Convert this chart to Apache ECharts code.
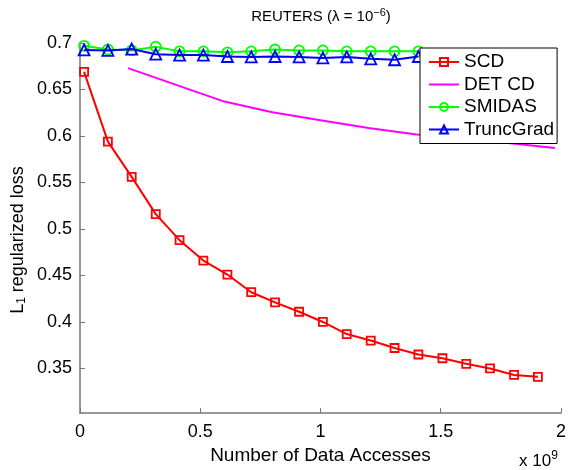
<!DOCTYPE html>
<html><head><meta charset="utf-8">
<script src="https://cdn.jsdelivr.net/npm/echarts@6/dist/echarts.min.js"></script>
<style>html,body{margin:0;padding:0;background:#fff}#c{width:569px;height:470px}</style>
</head><body><div id="c"></div>
<script>
// x in units of 1e9 data accesses
const xStoch = [0.017,0.116,0.215,0.315,0.414,0.513,0.613,0.712,0.811,0.911,1.010,1.109,1.209,1.308,1.407,1.507,1.606,1.705,1.805,1.904];
const ySCD = [0.669,0.594,0.556,0.516,0.488,0.466,0.451,0.432,0.421,0.411,0.400,0.387,0.380,0.372,0.365,0.361,0.355,0.350,0.343,0.341];
const ySMIDAS = [0.697,0.693,0.692,0.696,0.691,0.691,0.690,0.691,0.693,0.692,0.692,0.691,0.691,0.691,0.691];
const yTrunc = [0.6925,0.692,0.6935,0.688,0.687,0.687,0.6855,0.685,0.6855,0.685,0.684,0.685,0.683,0.682,0.6855];
const xDET = [0.2,0.6,0.8,1.0,1.2,1.4,1.6,1.8,1.975];
const yDET = [0.673,0.637,0.6255,0.617,0.6085,0.6015,0.597,0.592,0.587];
const yTicks = [0.35,0.4,0.45,0.5,0.55,0.6,0.65,0.7];
const xTickLabels = ['0','0.5','1','1.5','2'];

const FONT = "'Liberation Sans', Arial, sans-serif";
const pair = (xs, ys) => ys.map((v, i) => [xs[i], v]);
const chart = echarts.init(document.getElementById('c'), null, {renderer: 'canvas'});
const axisCol = '#777';
chart.setOption({
  animation: false,
  backgroundColor: '#fff',
  textStyle: {fontFamily: FONT},
  graphic: [
    {type: 'text', x: 321, y: 17,
      style: {text: '{t|REUTERS (λ = 10}{p|−6}{t|)}', align: 'center', verticalAlign: 'middle', rich: {
        t: {fontFamily: FONT, fontSize: 15, fill: '#000', color: '#000'},
        p: {fontFamily: FONT, fontSize: 11, fill: '#000', color: '#000', padding: [0,0,9,0]}
      }}},
    {type: 'text', x: 18, y: 240, rotation: Math.PI / 2,
      style: {text: '{a|L}{s|1}{a| regularized loss}', align: 'center', verticalAlign: 'middle', rich: {
        a: {fontFamily: FONT, fontSize: 18, fill: '#000', color: '#000'},
        s: {fontFamily: FONT, fontSize: 12, fill: '#000', color: '#000', padding: [8,0,0,0]}
      }}},
    {type: 'text', left: 519, top: 450,
      style: {text: '{a|x 10}{s|9}', rich: {
        a: {fontFamily: FONT, fontSize: 17, fill: '#000', color: '#000'},
        s: {fontFamily: FONT, fontSize: 12, fill: '#000', color: '#000', padding: [0,0,10,0]}
      }}}
  ],
  grid: {left: 80, right: 8, top: 43, bottom: 53, containLabel: false},
  xAxis: {
    type: 'value', min: 0, max: 2, interval: 0.5,
    name: 'Number of Data Accesses', nameLocation: 'middle', nameGap: 23,
    nameTextStyle: {fontFamily: FONT, fontSize: 19, color: '#000'},
    axisLine: {lineStyle: {color: axisCol, width: 1.5}},
    axisTick: {inside: true, length: 5, lineStyle: {color: axisCol}},
    axisLabel: {fontFamily: FONT, fontSize: 18, color: '#000', margin: 10,
      formatter: (v) => xTickLabels[Math.round(v / 0.5)]},
    splitLine: {show: false}
  },
  yAxis: {
    type: 'value', min: 0.302, max: 0.7,
    axisLine: {show: true, lineStyle: {color: axisCol, width: 1.5}},
    axisTick: {show: true, inside: true, length: 5, customValues: yTicks, lineStyle: {color: axisCol}},
    axisLabel: {fontFamily: FONT, fontSize: 18, color: '#000', margin: 8, customValues: yTicks,
      formatter: (v) => String(Math.round(v * 100) / 100)},
    splitLine: {show: false}
  },
  legend: {
    orient: 'vertical', left: 420, top: 48,
    backgroundColor: '#fff', borderColor: '#000', borderWidth: 1, borderRadius: 0,
    padding: [4, 3, 4, 8], itemGap: 2.5, itemWidth: 30, itemHeight: 10, itemTextGap: 5,
    textStyle: {fontFamily: FONT, fontSize: 19, color: '#000', lineHeight: 20},
    data: ['SCD', {name: 'DET CD', itemStyle: {opacity: 0}}, 'SMIDAS', 'TruncGrad']
  },
  series: [
    {name: 'SCD', type: 'line', data: pair(xStoch, ySCD), symbol: 'rect', symbolSize: 8,
      lineStyle: {color: '#ff0000', width: 2},
      itemStyle: {color: 'rgba(255,255,255,0)', borderColor: '#ff0000', borderWidth: 1.8}, z: 3},
    {name: 'DET CD', type: 'line', data: pair(xDET, yDET), symbol: 'none', showSymbol: false,
      lineStyle: {color: '#ff00ff', width: 2}, itemStyle: {color: '#ff00ff'}, z: 2},
    {name: 'SMIDAS', type: 'line', data: pair(xStoch, ySMIDAS), symbol: 'circle', symbolSize: 10,
      lineStyle: {color: '#00ff00', width: 2},
      itemStyle: {color: 'rgba(255,255,255,0)', borderColor: '#00ff00', borderWidth: 1.8}, z: 2},
    {name: 'TruncGrad', type: 'line', data: pair(xStoch, yTrunc), symbol: 'triangle', symbolSize: 11,
      lineStyle: {color: '#0000ff', width: 2},
      itemStyle: {color: 'rgba(255,255,255,0)', borderColor: '#0000ff', borderWidth: 1.8}, z: 3}
  ]
});
</script>
</body></html>
